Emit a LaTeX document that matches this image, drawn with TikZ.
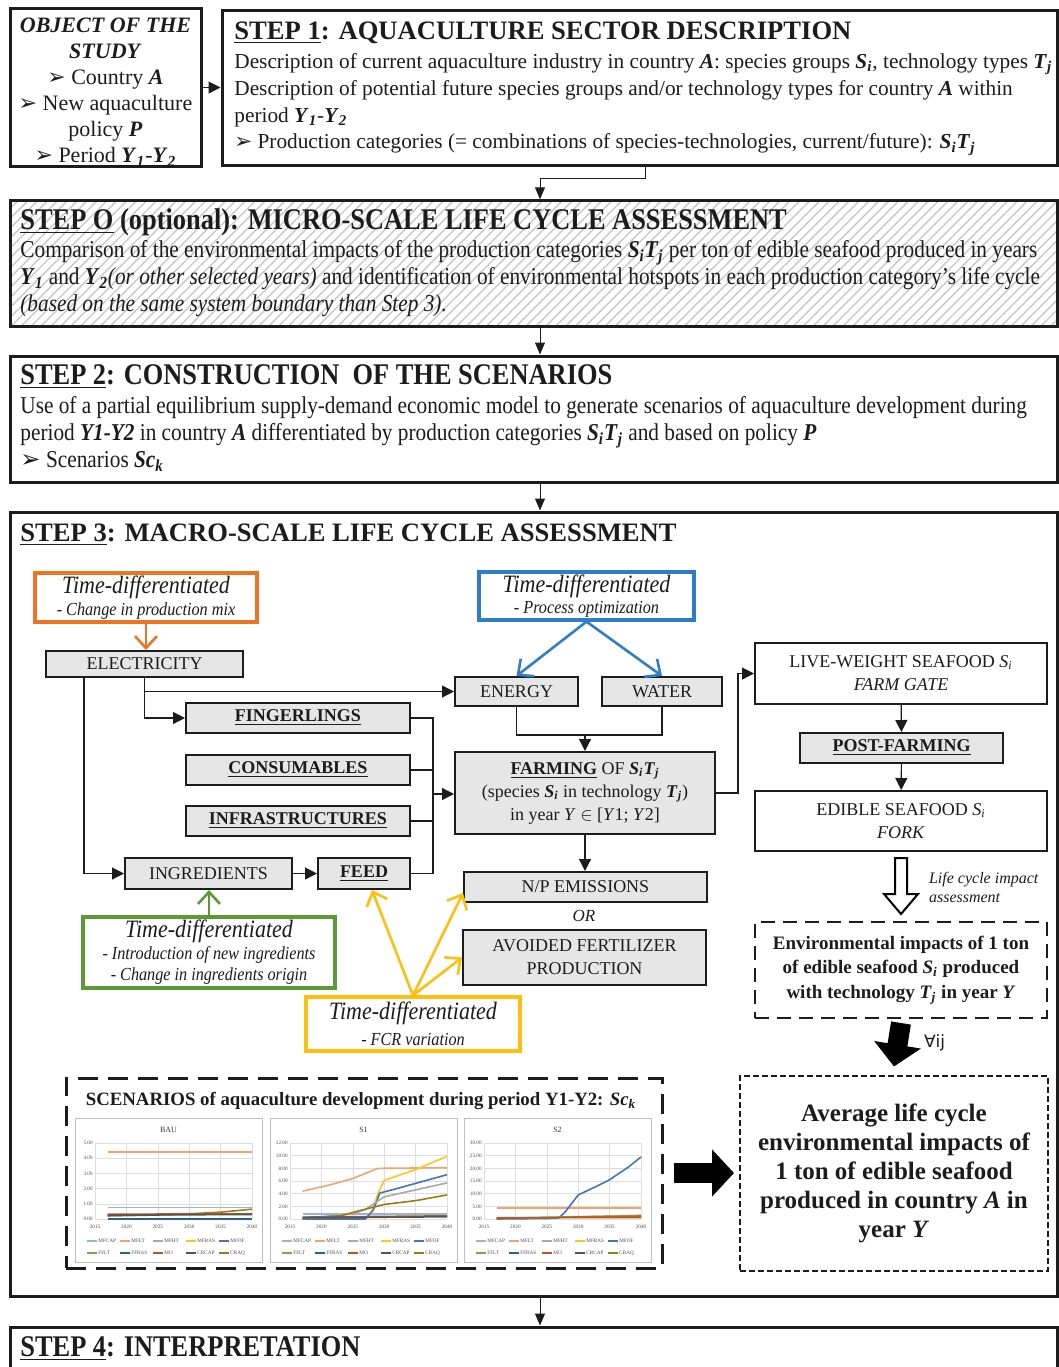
\documentclass[tikz,border=0pt]{standalone}
\usepackage{fontspec}
\setmainfont{Liberation Serif}
\newfontfamily\narrowserif[FakeStretch=0.88]{Liberation Serif}
\newfontfamily\glyphfont{DejaVu Sans}
\usetikzlibrary{arrows.meta,patterns.meta}
\definecolor{ink}{HTML}{1C1C1C}
\definecolor{boxgray}{HTML}{E6E6E6}
\definecolor{tdorange}{HTML}{EE7424}
\definecolor{tdblue}{HTML}{2F7DC8}
\definecolor{tdgreen}{HTML}{5B9A34}
\definecolor{tdyellow}{HTML}{FFBF0F}
\definecolor{hatch}{HTML}{C8C8C8}
\definecolor{chartedge}{HTML}{BFBFBF}
\definecolor{chartgrid}{HTML}{DDDDDD}
\definecolor{cmfcap}{HTML}{8DB8E2}
\definecolor{cmflt}{HTML}{F4A26B}
\definecolor{cmfht}{HTML}{A9A9A9}
\definecolor{cmfras}{HTML}{FFC61A}
\definecolor{cmfof}{HTML}{4472C4}
\definecolor{cfflt}{HTML}{70AD47}
\definecolor{cffras}{HTML}{2A6099}
\definecolor{cmo}{HTML}{B8561A}
\definecolor{ccrcap}{HTML}{555555}
\definecolor{ccraq}{HTML}{A07A10}

\newcommand{\bi}[1]{\textbf{\textit{#1}}}
\newcommand{\bsub}[2]{\bi{#1}\textsubscript{\bi{#2}}}
\newcommand{\SiTj}{\bsub{S}{i}\bsub{T}{j}}
\newcommand{\pointer}{{\glyphfont\char"27A2}}

\begin{document}
\begin{tikzpicture}[
  x=0.5pt, y=-0.5pt,
  text=ink,
  stepbox/.style={draw=ink, line width=1.5pt, inner sep=0pt},
  steptitle/.style={anchor=north west, inner sep=0pt, font=\fontsize{13.3}{15}\selectfont\bfseries},
  narrowtitle/.style={anchor=north west, inner sep=0pt, font=\narrowserif\fontsize{15}{17}\selectfont\bfseries},
  stepbody/.style={anchor=north west, inner sep=0pt, align=left, font=\fontsize{10.65}{13.4}\selectfont},
  narrowbody/.style={anchor=north west, inner sep=0pt, align=left, font=\narrowserif\fontsize{12.1}{13.5}\selectfont},
  unit/.style={draw=ink, line width=1pt, fill=boxgray, inner sep=0pt, align=center, font=\fontsize{9}{11.5}\selectfont},
  keyunit/.style={unit, font=\fontsize{9}{11.5}\selectfont\bfseries},
  whitebox/.style={unit, fill=white},
  timebox/.style={line width=1.6pt, fill=white, inner sep=0pt, align=center, font=\narrowserif\fontsize{9.2}{10.8}\selectfont\itshape},
  arrow/.style={-{Triangle[length=6pt,width=6pt]}, draw=ink, line width=0.6pt},
  link/.style={draw=ink, line width=0.6pt},
  steparrow/.style={-{Triangle[length=6pt,width=5pt]}, draw=ink, line width=0.5pt},
  vee/.style={-{Straight Barb[length=6pt,width=11pt]}, line width=1.3pt},
  fat/.style={-{Triangle[length=11pt,width=23pt]}, line width=10pt, draw=black},
  chartframe/.style={draw=chartedge, line width=0.4pt},
  gridline/.style={draw=chartgrid, line width=0.3pt},
  ticklabel/.style={inner sep=0.5pt, font=\fontsize{2.6}{3}\selectfont, text=black!70},
  series/.style={line width=0.8pt, line join=round}
]
\useasboundingbox (0,0) rectangle (1059,1367);

% object of the study and step 1
\node[stepbox, minimum width=95.5pt, minimum height=77.5pt, align=center,
  font=\fontsize{11}{13}\selectfont] (object) at (105.5,87.5)
  {\rule{0pt}{12pt}\bi{OBJECT OF THE}\\\bi{STUDY}\\\pointer{} Country \bi{A}\\\pointer{} New aquaculture\\policy \bi{P}\\\pointer{} Period \bsub{Y}{1}-\bsub{Y}{2}};
\node[stepbox, minimum width=417.5pt, minimum height=77.5pt] (step1) at (639.5,87.5) {};
\node[steptitle] (step1t) at (234,21) {\underline{STEP 1}: AQUACULTURE SECTOR DESCRIPTION};
\node[stepbody] (step1b) at (234,53) {
  Description of current aquaculture industry in country \bi{A}: species groups \bsub{S}{i}, technology types \bsub{T}{j}\\
  Description of potential future species groups and/or technology types for country \bi{A} within\\
  period \bsub{Y}{1}-\bsub{Y}{2}\\
  \pointer{} Production categories (= combinations of species-technologies, current/future): \SiTj};
\draw[arrow] (object) -- (step1);

% step 0
\node[stepbox, minimum width=523.5pt, minimum height=63pt,
  pattern={Lines[angle=45,distance=3.5pt,line width=0.7pt]}, pattern color=hatch] (step0) at (533.5,263) {};
\node[narrowtitle] (step0t) at (20,208) {\underline{STEP O} (optional): MICRO-SCALE LIFE CYCLE ASSESSMENT};
\node[narrowbody] (step0b) at (20,240) {
  Comparison of the environmental impacts of the production categories \SiTj{} per ton of edible seafood produced in years\\
  \bsub{Y}{1} and \bsub{Y}{2}\textit{(or other selected years)} and identification of environmental hotspots in each production category’s life cycle\\
  \textit{(based on the same system boundary than Step 3).}};

% step 2
\node[stepbox, minimum width=523.5pt, minimum height=63pt] (step2) at (533.5,419) {};
\node[narrowtitle] (step2t) at (20,364) {\underline{STEP 2}: CONSTRUCTION\ \ OF THE SCENARIOS};
\node[narrowbody] (step2b) at (20,396) {
  Use of a partial equilibrium supply-demand economic model to generate scenarios of aquaculture development during\\
  period \bi{Y1-Y2} in country \bi{A} differentiated by production categories \SiTj{} and based on policy \bi{P}\\
  \pointer{} Scenarios \bsub{Sc}{k}};

% step 3 and step 4
\node[stepbox, minimum width=523.5pt, minimum height=392pt] (step3) at (533.5,904) {};
\node[steptitle] (step3t) at (20,523) {\underline{STEP 3}: MACRO-SCALE LIFE CYCLE ASSESSMENT};
\node[stepbox, minimum width=523.5pt, minimum height=40pt] (step4) at (533.5,1367) {};
\node[narrowtitle] (step4t) at (20,1336) {\underline{STEP 4}: INTERPRETATION};

% main spine
\coordinate (spine) at (540,0);
\coordinate (s1drop) at (645,178);
\draw[steparrow] (step1.south -| s1drop) |- (s1drop -| spine) -- (spine |- step0.north);
\draw[steparrow] (spine |- step0.south) -- (spine |- step2.north);
\draw[steparrow] (spine |- step2.south) -- (spine |- step3.north);
\draw[steparrow] (spine |- step3.south) -- (spine |- step4.north);

% inputs
\node[timebox, draw=tdorange, minimum width=111pt, minimum height=24.5pt] (mixbox) at (146,597.5)
  {{\fontsize{12.5}{13}\selectfont Time-differentiated}\\- Change in production mix};
\node[unit, minimum width=98.5pt, minimum height=13pt] (electricity) at (144.5,664) {ELECTRICITY};
\node[timebox, draw=tdblue, minimum width=107.5pt, minimum height=24pt] (optbox) at (586.5,596)
  {{\fontsize{12.5}{13}\selectfont Time-differentiated}\\- Process optimization};
\node[unit, minimum width=61.5pt, minimum height=14.5pt] (energy) at (516.5,691.5) {ENERGY};
\node[unit, minimum width=60pt, minimum height=14.5pt] (water) at (662,691.5) {WATER};
\node[keyunit, minimum width=112pt, minimum height=15pt] (fingerlings) at (298,718) {\underline{FINGERLINGS}};
\node[keyunit, minimum width=112pt, minimum height=15pt] (consumables) at (298,770) {\underline{CONSUMABLES}};
\node[keyunit, minimum width=112pt, minimum height=15pt] (infrastructures) at (298,821) {\underline{INFRASTRUCTURES}};
\node[unit, minimum width=83.5pt, minimum height=15.5pt] (ingredients) at (208.5,873.5) {INGREDIENTS};
\node[keyunit, minimum width=46pt, minimum height=15.5pt] (feed) at (364,873.5) {\underline{FEED}};
\node[unit, minimum width=130pt, minimum height=41pt] (farming) at (585,793)
  {\textbf{\underline{FARMING}} OF \SiTj\\(species \bsub{S}{i} in technology \bsub{T}{j})\\in year \textit{Y} $\in$ [\textit{Y}1; \textit{Y}2]};
\node[unit, minimum width=121.5pt, minimum height=15pt] (npemis) at (585.5,887) {N/P EMISSIONS};
\node[font=\fontsize{8.5}{10}\selectfont\itshape] (orword) at (584,916) {OR};
\node[unit, minimum width=121.5pt, minimum height=27.5pt] (avoided) at (584.5,957.5) {AVOIDED FERTILIZER\\PRODUCTION};
\node[timebox, draw=tdgreen, minimum width=126pt, minimum height=35.5pt] (ingbox) at (209,952.5)
  {{\fontsize{12.5}{13}\selectfont Time-differentiated}\\- Introduction of new ingredients\\- Change in ingredients origin};
\node[timebox, draw=tdyellow, minimum width=107pt, minimum height=27pt] (fcrbox) at (413,1024)
  {{\fontsize{12.5}{13}\selectfont Time-differentiated}\\[2pt]- FCR variation};

% outputs
\node[whitebox, minimum width=146pt, minimum height=30.5pt] (liveweight) at (901,673.5)
  {LIVE-WEIGHT SEAFOOD \textit{S}\textsubscript{\textit{i}}\\\textit{FARM GATE}};
\node[keyunit, minimum width=101.5pt, minimum height=15pt] (postfarming) at (901.5,748) {\underline{POST-FARMING}};
\node[whitebox, minimum width=146pt, minimum height=30pt] (edible) at (901,821)
  {EDIBLE SEAFOOD \textit{S}\textsubscript{\textit{i}}\\\textit{FORK}};
\node[draw=ink, line width=1pt, dash pattern=on 7pt off 4pt, minimum width=146pt, minimum height=48pt,
  inner sep=0pt, align=center, font=\fontsize{9.5}{12.3}\selectfont\bfseries] (envimpact) at (901,970)
  {Environmental impacts of 1 ton\\of edible seafood \bsub{S}{i} produced\\with technology \bsub{T}{j} in year \bi{Y}};
\node[draw=ink, line width=1pt, dash pattern=on 3pt off 1.5pt, minimum width=154pt, minimum height=97.5pt,
  inner sep=0pt, align=center, font=\fontsize{12.5}{14.5}\selectfont\bfseries] (average) at (894,1173)
  {Average life cycle\\environmental impacts of\\1 ton of edible seafood\\produced in country \bi{A} in\\year \bi{Y}};
\node[draw=ink, line width=1.5pt, dash pattern=on 10pt off 5pt, minimum width=298pt, minimum height=95pt] (scenarios) at (364,1173) {};
\node[font=\fontsize{9.4}{11}\selectfont\bfseries] (scentitle) at (361,1101)
  {SCENARIOS of aquaculture development during period Y1-Y2: \bsub{Sc}{k}};

% flows
\draw[vee, tdorange] (mixbox.south) -- (mixbox.south |- electricity.north);
\draw[vee, tdblue] (optbox.south) -- (energy.north);
\draw[vee, tdblue] (optbox.south) -- (water.north);
\draw[arrow] (electricity.south) |- (energy.west);
\draw[arrow] (electricity.south) |- (fingerlings.west);
\draw[arrow] ([xshift=19.5pt]electricity.south west) |- (ingredients.west);
\draw[arrow] (ingredients) -- (feed);
\coordinate (bus) at (433,794);
\draw[link] (fingerlings.east) -| (bus);
\draw[link] (feed.east) -| (bus);
\draw[link] (consumables.east) -- (consumables.east -| bus);
\draw[link] (infrastructures.east) -- (infrastructures.east -| bus);
\draw[arrow] (bus) -- (bus -| farming.west);
\coordinate (ewjoin) at (585,735);
\draw[link] (energy.south) |- (ewjoin);
\draw[link] (water.south) |- (ewjoin);
\draw[arrow] (ewjoin) -- (farming.north);
\draw[arrow] (farming.south) -- (farming.south |- npemis.north);
\coordinate (gatejog) at (738,0);
\draw[arrow] (farming.east) -- (farming.east -| gatejog) |- (liveweight.west);
\draw[arrow] (liveweight) -- (postfarming);
\draw[arrow] (postfarming) -- (edible);
\draw[vee, tdgreen] (ingbox.north) -- (ingbox.north |- ingredients.south);
\draw[vee, tdyellow] (fcrbox.north) -- ([xshift=4pt]feed.south);
\draw[vee, tdyellow] (fcrbox.north) -- ([yshift=5pt]npemis.south west);
\draw[vee, tdyellow] (fcrbox.north) -- (avoided.west);

% impact assessment
\draw[line width=1pt, fill=white] ([shift={(-6,6)}]edible.south) -- ++(12,0) -- ++(0,36) -- ++(11,0)
  -- ++(-17,20) -- ++(-17,-20) -- ++(11,0) -- cycle;
\node[anchor=west, align=left, font=\fontsize{8}{9.5}\selectfont\itshape] (lcialabel) at (922,887)
  {Life cycle impact\\assessment};
\draw[fat] ([yshift=-2pt]envimpact.south) -- ([yshift=4pt]average.north);
\node[anchor=west, font=\glyphfont\fontsize{8.5}{10}\selectfont] (forall) at (917,1043) {\char"2200 ij};
\draw[fat] ([xshift=5pt]average.west -| scenarios.east) -- ([xshift=-2.5pt]average.west);

% scenario charts
\foreach \cx/\cname/\cmax/\cstep in {75/BAU/5/1, 270/S1/12/2, 464/S2/30/5}{
  \draw[chartframe] (\cx,1118) rectangle ++(187,144);
  \node[font=\fontsize{4}{5}\selectfont, text=black!80] at (\cx+93.5,1130) {\cname};
  \pgfmathtruncatemacro\nk{\cmax/\cstep}
  \foreach \k in {0,...,\nk}{
    \pgfmathsetmacro\gy{1219-76*\k*\cstep/\cmax}
    \pgfmathsetmacro\tv{\k*\cstep}
    \draw[gridline] (\cx+20,\gy) -- (\cx+177,\gy);
    \node[ticklabel, anchor=east] at (\cx+19,\gy)
      {\pgfmathprintnumber[fixed,fixed zerofill,precision=2,assume math mode=true]{\tv}};
  }
  \foreach \yr [count=\i from 0] in {2015,2020,...,2040}{
    \draw[gridline] (\cx+20+\i*31.4,1143) -- (\cx+20+\i*31.4,1219);
    \node[ticklabel] at (\cx+20+\i*31.4,1227) {\yr};
  }
  \foreach \lname/\lcol [count=\j from 0] in {MFCAP/cmfcap, MFLT/cmflt, MFHT/cmfht, MFRAS/cmfras, MFOF/cmfof,
      FFLT/cfflt, FFRAS/cffras, MO/cmo, CRCAP/ccrcap, CRAQ/ccraq}{
    \pgfmathsetmacro\lx{\cx+12+mod(\j,5)*33}
    \pgfmathsetmacro\ly{1241+int(\j/5)*12}
    \draw[\lcol, line width=0.6pt] (\lx,\ly) -- ++(10,0);
    \node[ticklabel, anchor=west] at (\lx+10,\ly) {\lname};
  }
}
% BAU
\begin{scope}[shift={(95,1219)}, x=3.14pt, y=7.6pt]
  \draw[series, cmflt] (2,4.4) -- (25,4.4);
  \draw[series, cmfcap] (2,0.75) -- (25,0.75);
  \draw[series, cffras] (2,0.02) -- (25,0.02);
  \draw[series, ccraq] (2,0.2) -- (12,0.28) -- (20,0.45) -- (25,0.65);
  \draw[series, cmo] (2,0.32) -- (25,0.34);
  \draw[series, ccrcap] (2,0.25) -- (25,0.3);
\end{scope}
% S1
\begin{scope}[shift={(290,1219)}, x=3.14pt, y=3.167pt]
  \draw[series, cmfcap] (2,0.75) -- (25,0.75);
  \draw[series, cmflt] (2,4.4) -- (6,5.3) -- (10,6.4) -- (14,8.0) -- (25,8.1);
  \draw[series, cmfras] (2,0) -- (12,0) -- (13,1) -- (14,4) -- (15,6.1) -- (20,7.8) -- (25,9.9);
  \draw[series, cmfof] (2,0) -- (12,0) -- (13.3,1.5) -- (14.3,4.1) -- (17,4.8) -- (25,7);
  \draw[series, cmfht] (2,0.1) -- (10,0.8) -- (12,1.5) -- (13,2.2) -- (15,3.5) -- (25,5.7);
  \draw[series, ccraq] (2,0.2) -- (8,0.5) -- (11,1.3) -- (15,2.3) -- (20,2.9) -- (25,3.8);
  \draw[series, cmo] (2,0.3) -- (25,0.5);
  \draw[series, ccrcap] (2,0.2) -- (25,0.35);
\end{scope}
% S2
\begin{scope}[shift={(484,1219)}, x=3.14pt, y=1.267pt]
  \draw[series, cmflt] (2,4.4) -- (25,4.4);
  \draw[series, cmfof] (2,0) -- (10,0.2) -- (12,0.5) -- (13,3) -- (15,9.5) -- (18,13) -- (20,15.5) -- (23,20.5) -- (25,24.5);
  \draw[series, cmfht] (2,0.2) -- (25,1.5);
  \draw[series, ccraq] (2,0.3) -- (25,1.2);
  \draw[series, cmo] (2,0.5) -- (25,0.6);
\end{scope}
\end{tikzpicture}
\end{document}
